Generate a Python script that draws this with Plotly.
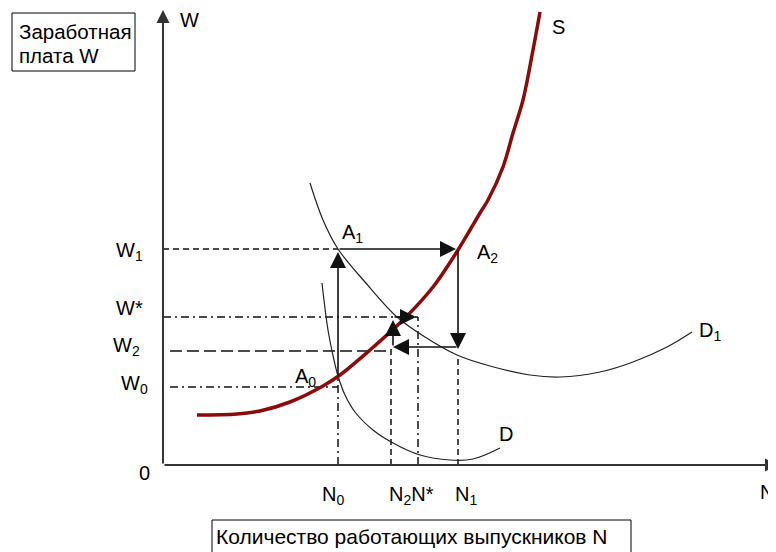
"""
Labour market for graduates: supply S and demand D / D1,
cobweb-like adjustment A0 -> A1 -> A2 -> equilibrium.
"""

import plotly.graph_objects as go


# =========================================================
# Data (N along the horizontal axis, W along the vertical)
# =========================================================

s_n = [3.4, 7.4, 9.7, 12.7, 16.0, 17.7, 20.7, 24.2, 27.0, 29.5,
       30.7, 31.7, 32.5, 34.0, 35.0, 36.0, 37.0, 37.7]
s_w = [5.0, 5.1, 5.4, 6.3, 7.9, 9.0, 11.5, 14.7, 17.8, 21.5,
       23.5, 25.2, 26.5, 29.8, 33.2, 36.5, 41.5, 45.3]

d1_n = [14.7, 16.0, 17.5, 20.2, 23.4, 26.2, 29.4, 32.7, 36.7,
        39.7, 43.7, 47.0, 50.4, 52.9]
d1_w = [28.2, 24.5, 21.6, 18.3, 14.8, 12.8, 11.0, 9.9, 9.0,
        8.8, 9.3, 10.3, 11.8, 13.3]

d_n = [15.9, 16.5, 17.1, 17.5, 18.2, 19.2, 21.0, 23.0, 25.7,
       28.7, 31.0, 33.7]
d_w = [18.2, 13.5, 10.5, 8.9, 7.0, 5.3, 3.5, 2.2, 1.0,
       0.5, 0.6, 1.7]

# wage levels
w1 = 21.6
w_star = 14.8
w2 = 11.4
w0 = 7.8

# employment levels
n0 = 17.5
n2 = 22.8
n_star = 25.5
n1 = 29.5

# adjustment path (tail -> head)
path_arrows = [
    ((n0, 8.8), (n0, 21.3)),
    ((n0, w1), (29.3, w1)),
    ((n1, w1), (n1, 11.6)),
    ((n1, 11.8), (23.0, 11.8)),
    ((23.0, 11.8), (23.0, 14.5)),
    ((23.0, w_star), (25.3, w_star)),
]

FONT = "Liberation Sans, Arial, sans-serif"

# the page body adds an 8px offset, so the figure covers 8..776 x 8..552
FIG_W = 768
FIG_H = 544


def paper_x(px):
    return (px - 8) / FIG_W


def paper_y(py):
    return 1 - (py - 8) / FIG_H


# =========================================================
# Figure
# =========================================================

fig = go.Figure()

# guide lines
guides = [
    ([0.0, n0], [w1, w1], "6px,4px"),
    ([0.0, n_star], [w_star, w_star], "8px,4px,2px,4px"),
    ([0.7, n2], [w2, w2], "12px,5px"),
    ([0.7, n0], [w0, w0], "8px,4px,2px,4px"),
    ([n0, n0], [0, 8.8], "8px,4px,2px,4px"),
    ([n2, n2], [0, 11.8], "6px,4px"),
    ([n_star, n_star], [0, w_star], "8px,4px,2px,4px"),
    ([n1, n1], [0, 11.0], "6px,4px"),
]

for gx, gy, dash in guides:
    fig.add_trace(go.Scatter(
        x=gx, y=gy, mode="lines",
        line=dict(color="#111111", width=1.5, dash=dash),
        hoverinfo="skip"
    ))

# demand curves
fig.add_trace(go.Scatter(
    x=d1_n, y=d1_w, mode="lines", line_shape="spline",
    line=dict(color="#222222", width=1.2), hoverinfo="skip"
))
fig.add_trace(go.Scatter(
    x=d_n, y=d_w, mode="lines", line_shape="spline",
    line=dict(color="#222222", width=1.2), hoverinfo="skip"
))

# supply curve
fig.add_trace(go.Scatter(
    x=s_n, y=s_w, mode="lines", line_shape="spline",
    line=dict(color="#8B0A0A", width=3.5), hoverinfo="skip"
))

# axes with arrows
for tail, head in [((0, 0), (0, 45.5)), ((0, 0), (61.5, 0))]:
    fig.add_annotation(
        x=head[0], y=head[1], ax=tail[0], ay=tail[1],
        xref="x", yref="y", axref="x", ayref="y",
        text="", showarrow=True, arrowhead=2,
        arrowsize=1.3, arrowwidth=2, arrowcolor="#333333",
        standoff=0
    )

# adjustment arrows
for tail, head in path_arrows:
    fig.add_annotation(
        x=head[0], y=head[1], ax=tail[0], ay=tail[1],
        xref="x", yref="y", axref="x", ayref="y",
        text="", showarrow=True, arrowhead=2,
        arrowsize=2, arrowwidth=1.6, arrowcolor="#111111",
        standoff=0
    )

# labels
labels = [
    ("W", 1.5, 44.5, "left"),
    ("0", -1.9, -0.8, "center"),
    ("W<sub>1</sub>", -4.9, 21.4, "left"),
    ("W*", -4.9, 15.7, "left"),
    ("W<sub>2</sub>", -5.2, 11.9, "left"),
    ("W<sub>0</sub>", -4.4, 8.1, "left"),
    ("N<sub>0</sub>", 15.7, -3.0, "left"),
    ("N<sub>2</sub>N*", 22.4, -3.0, "left"),
    ("N<sub>1</sub>", 29.0, -3.0, "left"),
    ("N", 61.3, -2.7, "right"),
    ("A<sub>1</sub>", 17.7, 23.2, "left"),
    ("A<sub>2</sub>", 31.2, 21.2, "left"),
    ("A<sub>0</sub>", 13.0, 8.8, "left"),
    ("S", 38.7, 43.8, "left"),
    ("D<sub>1</sub>", 53.4, 13.4, "left"),
    ("D", 33.4, 3.1, "left"),
]

for text, lx, ly, anchor in labels:
    fig.add_annotation(
        x=lx, y=ly, xref="x", yref="y", text=text,
        showarrow=False, xanchor=anchor, yanchor="middle",
        font=dict(family=FONT, size=20, color="black")
    )

# boxed captions
fig.add_shape(
    type="rect", xref="paper", yref="paper",
    x0=paper_x(12), x1=paper_x(135), y0=paper_y(71), y1=paper_y(13),
    line=dict(color="black", width=1), fillcolor="white"
)
for line_text, py in [("Заработная", 32), ("плата W", 55)]:
    fig.add_annotation(
        x=paper_x(17), y=paper_y(py), xref="paper", yref="paper",
        text=line_text, showarrow=False,
        xanchor="left", yanchor="middle",
        font=dict(family=FONT, size=20.5, color="black")
    )

fig.add_shape(
    type="rect", xref="paper", yref="paper",
    x0=paper_x(212), x1=paper_x(631), y0=paper_y(560), y1=paper_y(520),
    line=dict(color="black", width=1), fillcolor="white"
)
fig.add_annotation(
    x=paper_x(214), y=paper_y(536), xref="paper", yref="paper",
    text="Количество работающих выпускников N", showarrow=False,
    xanchor="left", yanchor="middle",
    font=dict(family=FONT, size=21, color="black")
)

fig.update_layout(
    width=FIG_W,
    height=FIG_H,
    showlegend=False,
    plot_bgcolor="white",
    paper_bgcolor="white",
    margin=dict(l=0, r=0, t=0, b=0),
    xaxis=dict(range=[-15.5, 61.3], visible=False, fixedrange=True),
    yaxis=dict(range=[-8.7, 45.7], visible=False, fixedrange=True),
)

fig.write_html("out.html", config={"displayModeBar": False})
